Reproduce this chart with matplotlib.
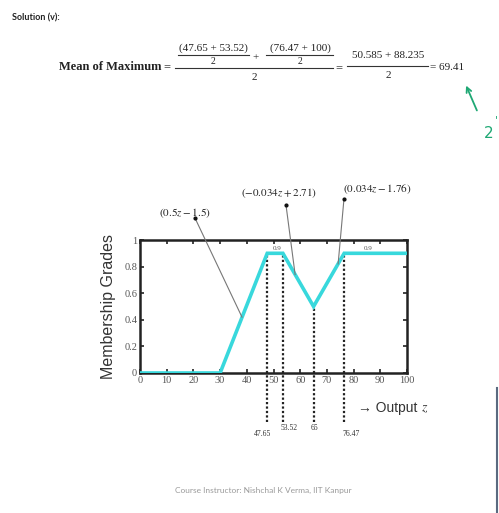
import matplotlib
matplotlib.use('Agg')
import matplotlib.pyplot as plt
from matplotlib.lines import Line2D

plt.rcParams['mathtext.fontset'] = 'stix'

# Aggregated output membership function (breakpoints)
z_pts = [0, 30, 47.65, 53.52, 65, 76.47, 100]
mu_pts = [0, 0, 0.9, 0.9, 0.5, 0.9, 0.9]

# Marked points on the z axis
mark_z = [47.65, 53.52, 65, 76.47]
mark_mu = [0.9, 0.9, 0.5, 0.9]
mark_labels = ['47.65', '53.52', '65', '76.47']

x_ticks = [0, 10, 20, 30, 40, 50, 60, 70, 80, 90, 100]
y_ticks = [0, 0.2, 0.4, 0.6, 0.8, 1]
y_tick_labels = ['0', '0.2', '0.4', '0.6', '0.8', '1']

# Segment equations (text, line end on curve)
eq_texts = ['$(0.5z - 1.5)$', '$(-0.034z + 2.71)$', '$(0.034z - 1.76)$']
eq_targets = [(38.2, 0.42), (58.1, 0.74), (74.2, 0.82)]

W, H = 499, 513
fig = plt.figure(figsize=(W / 100, H / 100), dpi=100)
fig.patch.set_facecolor('white')


def px(x, y):
    return x / W, 1 - y / H


def ftext(x, y, s, **kw):
    fx, fy = px(x, y)
    fig.text(fx, fy, s, **kw)


def fline(x0, x1, y, lw=0.8, color='#333333'):
    fx0, fy = px(x0, y)
    fx1, _ = px(x1, y)
    fig.add_artist(Line2D([fx0, fx1], [fy, fy], transform=fig.transFigure,
                          color=color, lw=lw))


# Slide header and formula
ftext(12, 18, 'Solution (v):', family='Lato', weight='bold', fontsize=6.5,
      va='center', ha='left', color='#222222')
serif = dict(family='Liberation Serif', color='#222222', va='center')
ftext(59, 67, 'Mean of Maximum', weight='bold', fontsize=9, ha='left', **serif)
ftext(167, 67, '=', fontsize=9, ha='center', **serif)
ftext(213, 48, '(47.65 + 53.52)', fontsize=8, ha='center', **serif)
fline(178, 249, 55)
ftext(213, 61, '2', fontsize=7, ha='center', **serif)
ftext(256, 58, '+', fontsize=8, ha='center', **serif)
ftext(300, 48, '(76.47 + 100)', fontsize=8, ha='center', **serif)
fline(266, 333, 55)
ftext(300, 61, '2', fontsize=7, ha='center', **serif)
fline(175, 333, 68)
ftext(254, 77, '2', fontsize=8, ha='center', **serif)
ftext(339, 68, '=', fontsize=9, ha='center', **serif)
ftext(388, 56, '50.585 + 88.235', fontsize=8, ha='center', **serif)
fline(347, 428, 66)
ftext(388, 76, '2', fontsize=8, ha='center', **serif)
ftext(430, 68, '= 69.41', fontsize=8, ha='left', **serif)

# Handwritten green note
green = '#1fa874'
fig.add_artist(matplotlib.patches.FancyArrowPatch(
    px(478, 113), px(465, 83), transform=fig.transFigure,
    arrowstyle='->', mutation_scale=9, color=green, lw=1.3))
ftext(489, 134, '2', family='DejaVu Sans', fontsize=11, color=green,
      ha='center', va='center')
ftext(496, 120, "'", family='DejaVu Sans', fontsize=8, color=green,
      ha='center', va='center')

# Chart
ax = fig.add_axes([140 / W, 1 - 373 / H, (407 - 140) / W, (373 - 240) / H])
ax.plot(z_pts, mu_pts, color='#38d8dc', lw=2.6, solid_joinstyle='miter',
        zorder=3)
ax.set_xlim(0, 100)
ax.set_ylim(0, 1)
ax.set_xticks(x_ticks)
ax.set_yticks(y_ticks)
ax.set_yticklabels(y_tick_labels)
ax.tick_params(direction='in', top=True, right=True, length=3, width=1.2,
               labelsize=7.5, pad=2, colors='#222222', labelcolor='#555555')
for lab in ax.get_xticklabels() + ax.get_yticklabels():
    lab.set_family('Liberation Serif')
for sp in ax.spines.values():
    sp.set_linewidth(1.8)
    sp.set_color('#222222')

ax.set_ylabel('Membership Grades', family='Liberation Sans', fontsize=11.5,
              color='#333333', labelpad=6)

# Dotted drop lines at the marked points
ax.vlines(mark_z, -0.37, mark_mu, colors='#222222', linestyles=(0, (1, 1)),
          lw=1.6, clip_on=False, zorder=2)
label_dx = [-1.8, 2.5, 0.5, 2.5]
label_y = [-0.46, -0.41, -0.41, -0.46]
for z, lab, dx, yy in zip(mark_z, mark_labels, label_dx, label_y):
    ax.text(z + dx, yy, lab, family='Liberation Serif', fontsize=5.5,
            ha='center', va='center', color='#333333', clip_on=False)

# 0.9 level labels
ax.text(51.3, 0.935, '0.9', family='Liberation Serif', fontsize=5,
        ha='center', va='center', color='#555555')
ax.text(85.4, 0.935, '0.9', family='Liberation Serif', fontsize=5,
        ha='center', va='center', color='#555555')

# Axis name
ax.text(81.5, -0.26, '→ Output', family='Liberation Sans', fontsize=10,
        ha='left', va='center', color='#333333', clip_on=False)
ax.text(105.2, -0.265, '$z$', fontsize=10, ha='left', va='center',
        color='#333333', clip_on=False)

# Equation annotations
text_pos = [(16.9, 1.20), (52.1, 1.35), (88.8, 1.38)]
dot_pos = [(20.6, 1.165), (54.7, 1.26), (76.4, 1.31)]
for s, (tx, ty), (dx, dy), (ex, ey) in zip(eq_texts, text_pos, dot_pos,
                                            eq_targets):
    ax.text(tx, ty, s, fontsize=8, ha='center', va='center',
            color='#222222', clip_on=False)
    ax.plot([dx, ex], [dy, ey], color='#777777', lw=0.8, clip_on=False,
            zorder=4)
    ax.plot([dx], [dy], 'o', color='#111111', ms=2, clip_on=False, zorder=5)

# Footer
ftext(263, 490, 'Course Instructor: Nishchal K Verma, IIT Kanpur',
      family='Lato', fontsize=6, color='#9a9a9a', ha='center', va='center')

# Edge of another window at the right border
fig.add_artist(Line2D([497 / W, 497 / W], [1 - 388 / H, 0],
                      transform=fig.transFigure, color='#5a6a80', lw=1.5))

fig.savefig('out.png', dpi=100)
